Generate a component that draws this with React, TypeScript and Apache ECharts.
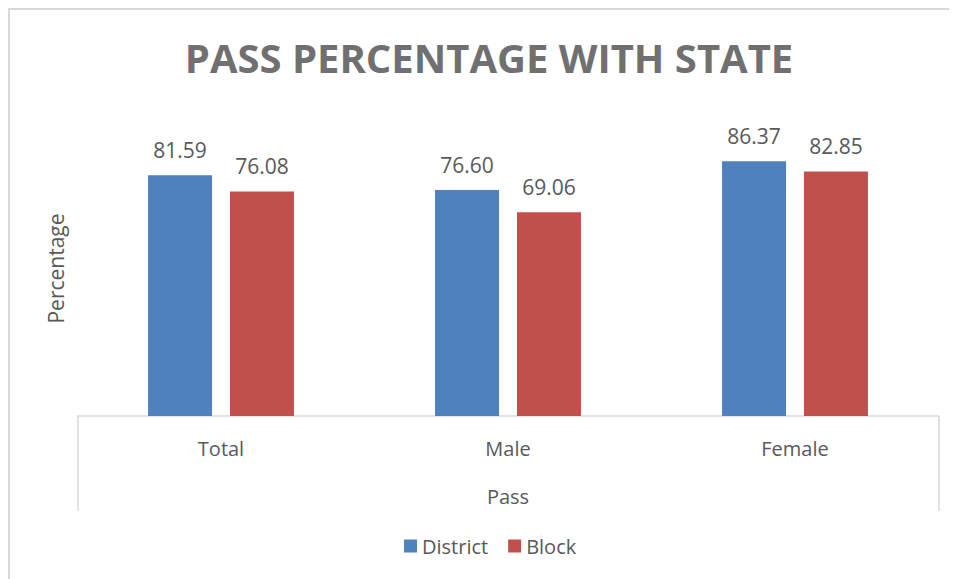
import React, { useEffect, useRef } from "react";
import * as echarts from "echarts";

const categories = ["Total", "Male", "Female"];
const groupLabel = ["Pass"];
const districtValues = [81.59, 76.6, 86.37];
const blockValues = [76.08, 69.06, 82.85];
const seriesNames = ["District", "Block"];
const titleText = "PASS PERCENTAGE WITH STATE";
const yAxisName = "Percentage";

const FONT = "'Open Sans', sans-serif";
const TEXT = "#595959";
const LINE = "#d9d9d9";

export default function App() {
  const ref = useRef<HTMLDivElement>(null);
  useEffect(() => {
    document.body.style.overflow = "hidden";
    if (!ref.current) return;
    const chart = echarts.init(ref.current, null, { renderer: "svg" });
    const labelCfg = {
      show: true,
      position: "top" as const,
      distance: 15,
      color: TEXT,
      fontSize: 21,
      fontFamily: FONT,
      formatter: (p: any) => p.value.toFixed(2),
    };
    chart.setOption({
      animation: false,
      backgroundColor: "#ffffff",
      title: {
        text: titleText,
        left: 476,
        textAlign: "center",
        top: 24,
        textStyle: { fontFamily: FONT, fontWeight: "bold", fontSize: 40, color: "#707070" },
      },
      legend: {
        data: seriesNames,
        left: 391,
        top: 523,
        itemWidth: 13,
        itemHeight: 13,
        itemGap: 20,
        icon: "rect",
        textStyle: { fontFamily: FONT, fontSize: 20, color: TEXT, padding: [0, 0, 0, 0] },
      },
      grid: { left: 69.5, right: 18.5, top: 113, bottom: 163, containLabel: false },
      xAxis: [
        {
          type: "category",
          data: categories,
          axisLine: { show: true, lineStyle: { color: LINE, width: 1.5 } },
          axisTick: { show: false },
          axisLabel: { margin: 22, fontSize: 20, fontFamily: FONT, color: TEXT },
        },
        {
          type: "category",
          data: groupLabel,
          position: "bottom",
          axisLine: { show: false },
          axisTick: { show: true, length: 95, lineStyle: { color: LINE, width: 1.5 } },
          axisLabel: { margin: 70, fontSize: 20, fontFamily: FONT, color: TEXT },
        },
      ],
      yAxis: {
        type: "value",
        min: 0,
        max: 100,
        name: yAxisName,
        nameLocation: "middle",
        nameGap: 11,
        nameTextStyle: { fontFamily: FONT, fontSize: 21, color: TEXT },
        axisLine: { show: false },
        axisTick: { show: false },
        axisLabel: { show: false },
        splitLine: { show: false },
      },
      series: [
        {
          name: seriesNames[0],
          type: "bar",
          data: districtValues,
          barWidth: 64,
          barGap: "28%",
          itemStyle: { color: "#4f81bd" },
          label: labelCfg,
        },
        {
          name: seriesNames[1],
          type: "bar",
          data: blockValues,
          barWidth: 64,
          barGap: "28%",
          itemStyle: { color: "#c0504d" },
          label: labelCfg,
        },
      ],
      graphic: [
        { type: "line", shape: { x1: 0, y1: 1, x2: 949, y2: 1 }, style: { stroke: LINE, lineWidth: 2 } },
        { type: "line", shape: { x1: 1, y1: 0, x2: 1, y2: 571 }, style: { stroke: LINE, lineWidth: 2 } },
      ],
    });
    return () => chart.dispose();
  }, []);
  return <div ref={ref} style={{ width: 949, height: 571 }} />;
}
